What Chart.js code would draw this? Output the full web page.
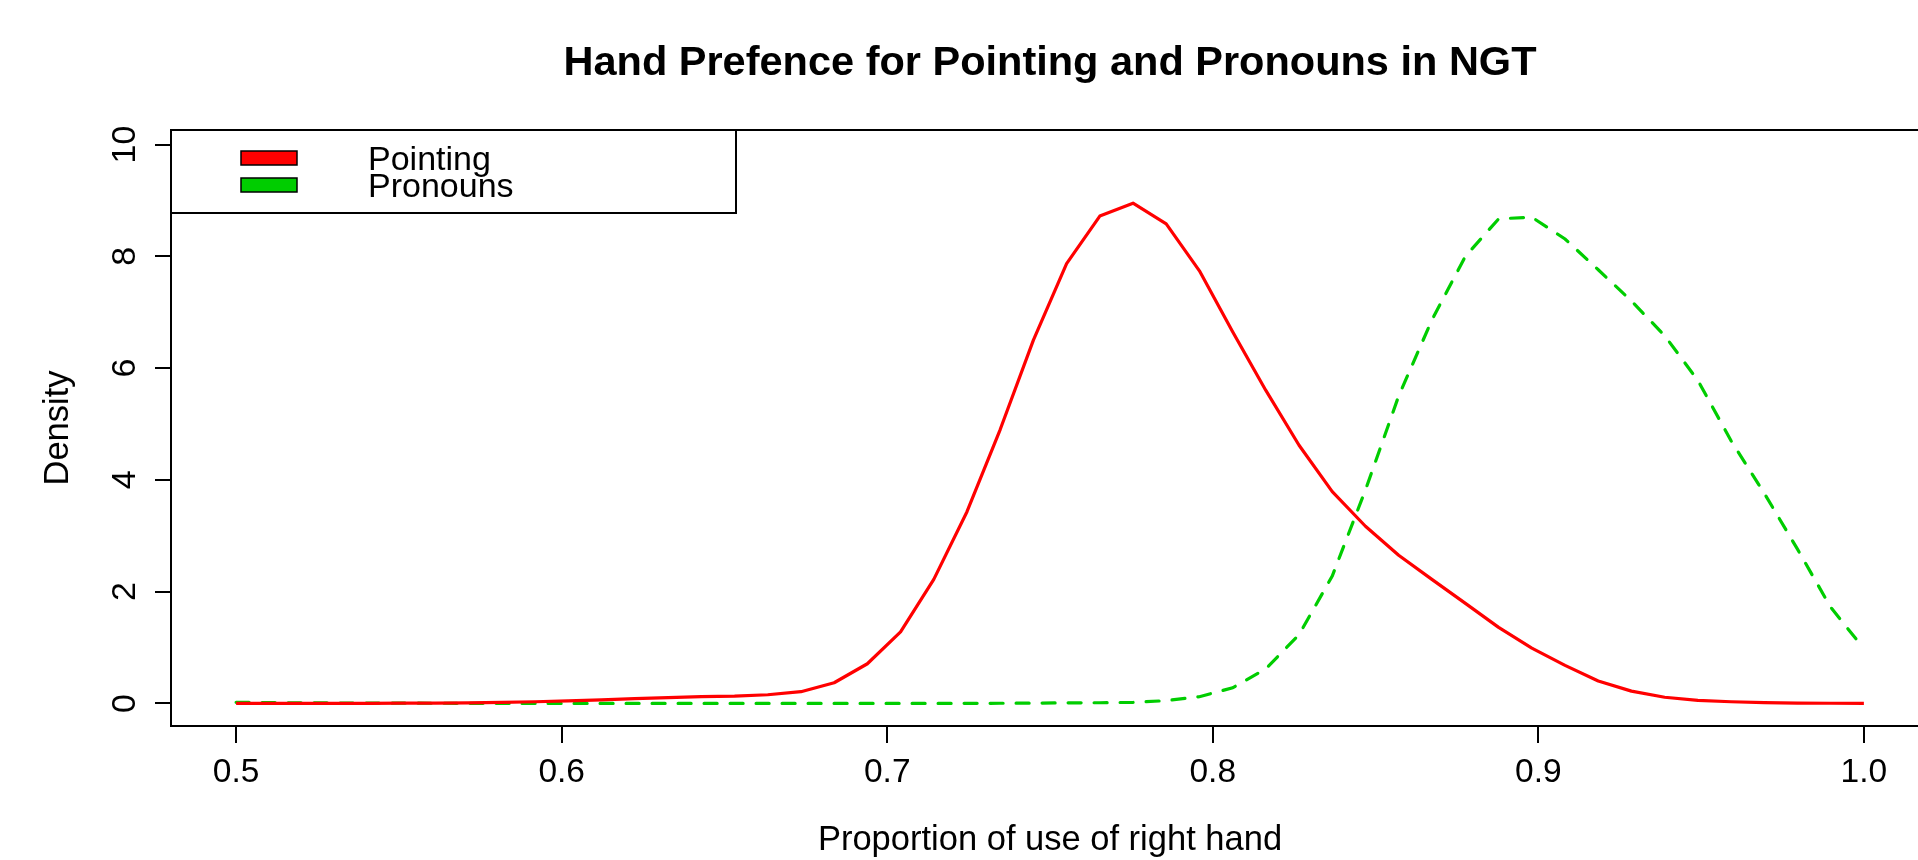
<!DOCTYPE html>
<html lang="en">
<head>
    <meta charset="UTF-8">
    <title>Hand Prefence for Pointing and Pronouns in NGT</title>
    <script src="https://cdn.jsdelivr.net/npm/chart.js"></script>
    <style>
        html, body {
            margin: 0;
            padding: 0;
            background: #fff;
            overflow: hidden;
        }
        canvas {
            display: block;
        }
    </style>
</head>
<body>
    <canvas id="densityChart" width="1929" height="860"></canvas>

    <script>
        // evaluation grid of the density estimate
        const xGrid = [
            0.5000, 0.5102, 0.5204, 0.5306, 0.5408, 0.5510, 0.5612, 0.5714, 0.5816, 0.5918,
            0.6020, 0.6122, 0.6224, 0.6327, 0.6429, 0.6531, 0.6633, 0.6735, 0.6837, 0.6939,
            0.7041, 0.7143, 0.7245, 0.7347, 0.7449, 0.7551, 0.7653, 0.7755, 0.7857, 0.7959,
            0.8061, 0.8163, 0.8265, 0.8367, 0.8469, 0.8571, 0.8673, 0.8776, 0.8878, 0.8980,
            0.9082, 0.9184, 0.9286, 0.9388, 0.9490, 0.9592, 0.9694, 0.9796, 0.9898, 1.0000
        ];

        // density values
        const pointing = [
            0.000, 0.000, 0.000, 0.000, 0.002, 0.005, 0.007, 0.010, 0.020, 0.030,
            0.045, 0.065, 0.085, 0.105, 0.120, 0.130, 0.155, 0.210, 0.370, 0.710,
            1.280, 2.220, 3.430, 4.900, 6.500, 7.870, 8.720, 8.950, 8.580, 7.740,
            6.650, 5.600, 4.620, 3.790, 3.170, 2.650, 2.220, 1.790, 1.360, 0.990,
            0.680, 0.400, 0.220, 0.110, 0.055, 0.030, 0.015, 0.007, 0.003, 0.001
        ];
        const pronouns = [
            0.020, 0.015, 0.010, 0.008, 0.005, 0.004, 0.003, 0.002, 0.001, 0.000,
            0.000, 0.000, 0.000, 0.000, 0.000, 0.000, 0.000, 0.000, 0.000, 0.000,
            0.000, 0.000, 0.001, 0.003, 0.005, 0.010, 0.012, 0.020, 0.050, 0.120,
            0.280, 0.620, 1.230, 2.280, 3.820, 5.500, 6.860, 8.000, 8.670, 8.700,
            8.310, 7.760, 7.200, 6.580, 5.780, 4.700, 3.760, 2.760, 1.720, 0.980
        ];

        const xTicks = [0.5, 0.6, 0.7, 0.8, 0.9, 1.0];
        const yTicks = [0, 2, 4, 6, 8, 10];
        const seriesNames = ["Pointing", "Pronouns"];

        const fontFamily = "'Liberation Sans', Arial, Helvetica, sans-serif";
        Chart.defaults.font.family = fontFamily;
        Chart.defaults.color = "#000";

        // R-style frame, rotated y tick labels and the boxed legend
        const rFrame = {
            id: "rFrame",
            afterDraw(chart) {
                const { ctx, chartArea: a } = chart;
                const yScale = chart.scales.y;
                ctx.save();

                ctx.strokeStyle = "#000";
                ctx.lineWidth = 2;
                ctx.strokeRect(a.left, a.top, a.right - a.left, a.bottom - a.top);

                // y tick labels, reading upwards like R's las = 0
                ctx.fillStyle = "#000";
                ctx.font = "34px " + fontFamily;
                ctx.textAlign = "center";
                ctx.textBaseline = "alphabetic";
                yTicks.forEach(v => {
                    ctx.save();
                    ctx.translate(a.left - 36, yScale.getPixelForValue(v));
                    ctx.rotate(-Math.PI / 2);
                    ctx.fillText(String(v), 0, 0);
                    ctx.restore();
                });

                // legend
                ctx.fillStyle = "#fff";
                ctx.fillRect(a.left, a.top, 565, 83);
                ctx.strokeRect(a.left, a.top, 565, 83);
                ctx.font = "34px " + fontFamily;
                ctx.textAlign = "left";
                chart.data.datasets.forEach((ds, i) => {
                    const top = a.top + 21 + i * 27;
                    ctx.fillStyle = ds.borderColor;
                    ctx.fillRect(a.left + 70, top, 56, 14);
                    ctx.lineWidth = 1.5;
                    ctx.strokeStyle = "#000";
                    ctx.strokeRect(a.left + 70, top, 56, 14);
                    ctx.fillStyle = "#000";
                    ctx.fillText(ds.label, a.left + 197, a.top + 40 + i * 26.7);
                });
                ctx.restore();
            }
        };

        new Chart(document.getElementById("densityChart"), {
            type: "line",
            data: {
                datasets: [{
                    label: seriesNames[0],
                    data: xGrid.map((x, i) => ({ x: x, y: pointing[i] })),
                    borderColor: "#FF0000",
                    borderWidth: 3.2,
                    pointRadius: 0,
                    tension: 0,
                    borderJoinStyle: "round",
                    fill: false
                }, {
                    label: seriesNames[1],
                    data: xGrid.map((x, i) => ({ x: x, y: pronouns[i] })),
                    borderColor: "#00CD00",
                    borderWidth: 3.2,
                    borderDash: [13, 13],
                    borderCapStyle: "round",
                    pointRadius: 0,
                    tension: 0,
                    fill: false
                }]
            },
            options: {
                responsive: false,
                animation: false,
                layout: { padding: 0 },
                plugins: {
                    legend: { display: false },
                    tooltip: { enabled: false },
                    title: {
                        display: true,
                        fullSize: false,
                        text: "Hand Prefence for Pointing and Pronouns in NGT",
                        color: "#000",
                        font: { size: 41.5, weight: "bold" },
                        padding: { top: 38.5, bottom: 41.7 }
                    }
                },
                scales: {
                    x: {
                        type: "linear",
                        min: 0.48,
                        max: 1.02,
                        afterBuildTicks: s => { s.ticks = xTicks.map(v => ({ value: v })); },
                        afterFit: s => { s.height = 134; },
                        border: { display: false },
                        grid: { drawOnChartArea: false, drawTicks: true, tickLength: 17, color: "#000", lineWidth: 2 },
                        ticks: {
                            color: "#000",
                            font: { size: 33.5 },
                            padding: 10,
                            maxRotation: 0,
                            autoSkip: false,
                            callback: v => Number(v).toFixed(1)
                        },
                        title: {
                            display: true,
                            text: "Proportion of use of right hand",
                            color: "#000",
                            font: { size: 34.5, lineHeight: 1 },
                            padding: { top: 0, bottom: 2 }
                        }
                    },
                    y: {
                        type: "linear",
                        min: -0.404,
                        max: 10.26,
                        afterBuildTicks: s => { s.ticks = yTicks.map(v => ({ value: v })); },
                        afterFit: s => { s.width = 171; },
                        border: { display: false },
                        grid: { drawOnChartArea: false, drawTicks: true, tickLength: 16, color: "#000", lineWidth: 2 },
                        ticks: { display: false },
                        title: {
                            display: true,
                            text: "Density",
                            color: "#000",
                            font: { size: 34.5, lineHeight: 1 },
                            padding: { top: 41, bottom: 0 }
                        }
                    }
                }
            },
            plugins: [rFrame]
        });
    </script>
</body>
</html>
